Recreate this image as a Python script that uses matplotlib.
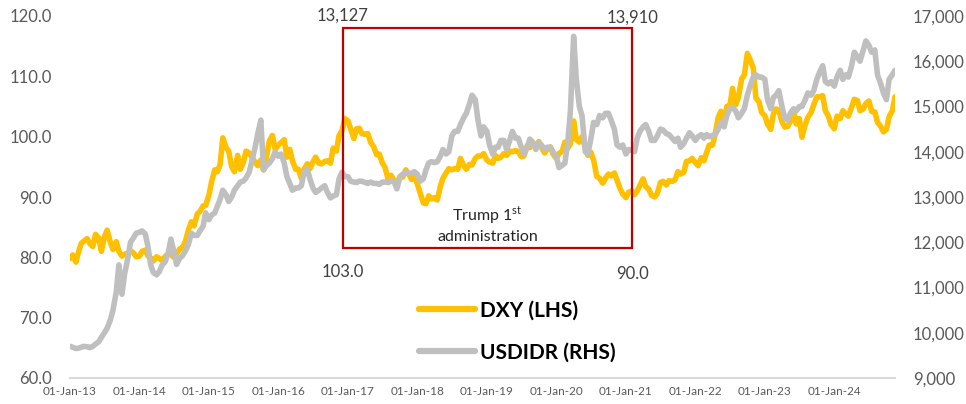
import numpy as np
import pandas as pd
import matplotlib
matplotlib.use("Agg")
import matplotlib.pyplot as plt
import matplotlib.dates as mdates
from matplotlib.patches import Rectangle
from matplotlib.lines import Line2D
from matplotlib.ticker import FuncFormatter

plt.rcParams['font.family'] = ['Lato', 'DejaVu Sans']
plt.rcParams['mathtext.fontset'] = 'custom'
plt.rcParams['mathtext.rm'] = 'Lato'

# DXY, semi-monthly (1st and 15th), one row per year
dxy = [
    79.8, 80.4, 79.2, 80.9, 82.3, 82.7, 83.1, 82.3, 81.8, 83.8, 83.2, 81.0, 83.4, 84.5, 82.5, 81.3, 82.6, 81.0, 80.2, 80.5, 80.7, 81.1, 80.7, 80.1,
    80.2, 81.0, 81.2, 80.2, 79.9, 79.4, 80.1, 79.8, 79.5, 80.1, 80.6, 80.5, 80.0, 80.6, 81.4, 81.6, 82.8, 84.5, 85.9, 85.2, 87.2, 87.6, 88.5, 88.6,
    90.3, 92.5, 94.5, 94.2, 95.4, 99.8, 98.2, 97.6, 95.0, 94.2, 96.9, 94.6, 95.7, 97.6, 97.3, 96.6, 95.8, 95.2, 96.1, 94.5, 96.9, 99.3, 100.2, 97.9,
    98.6, 99.0, 99.5, 96.6, 97.9, 96.0, 94.6, 94.6, 93.1, 94.6, 95.5, 94.7, 95.8, 96.6, 95.6, 95.5, 95.9, 96.0, 95.6, 98.1, 97.6, 100.2, 101.0, 103.0,
    102.6, 101.3, 99.7, 101.3, 101.4, 100.5, 100.4, 100.5, 99.0, 98.4, 97.0, 97.1, 95.6, 94.9, 92.8, 93.6, 92.7, 91.9, 93.4, 93.3, 94.5, 93.9, 92.9, 93.7,
    92.1, 90.7, 89.0, 88.9, 90.2, 89.7, 89.9, 89.5, 91.7, 93.1, 94.0, 94.7, 94.5, 94.7, 94.6, 96.4, 95.2, 94.6, 95.4, 95.3, 96.4, 96.8, 96.8, 97.2,
    96.1, 95.8, 95.6, 96.9, 96.4, 96.6, 97.2, 96.9, 97.6, 97.5, 97.7, 97.5, 96.7, 96.8, 98.5, 98.2, 98.9, 98.3, 99.2, 98.2, 97.3, 98.0, 98.3, 97.1,
    96.4, 97.2, 97.6, 99.1, 98.1, 98.8, 102.6, 99.5, 99.1, 100.0, 98.3, 96.9, 97.4, 96.1, 93.4, 93.1, 92.3, 93.1, 93.8, 93.5, 94.0, 92.8, 91.4, 90.5,
    89.9, 90.8, 91.0, 90.4, 91.0, 91.9, 93.0, 91.7, 91.3, 90.3, 90.0, 90.6, 92.4, 92.6, 92.0, 92.7, 92.6, 92.8, 94.2, 93.8, 94.1, 95.9, 96.0, 96.4,
    95.7, 95.2, 96.5, 96.0, 97.4, 98.6, 98.6, 100.5, 103.2, 104.2, 102.5, 105.0, 105.1, 108.0, 105.3, 106.5, 109.6, 110.2, 113.8, 112.8, 111.4, 106.4, 105.8, 104.0,
    103.5, 102.1, 101.2, 103.8, 104.6, 104.4, 102.5, 101.6, 101.7, 102.5, 104.2, 102.1, 103.0, 99.9, 102.0, 103.2, 104.0, 105.3, 106.6, 106.6, 106.8, 104.3, 103.4, 102.0,
    101.3, 103.4, 103.0, 104.3, 103.8, 103.4, 104.9, 106.2, 106.0, 104.3, 104.6, 105.5, 105.9, 104.2, 104.1, 102.4, 101.7, 100.8, 101.2, 103.3, 104.3, 106.6,
]

# USDIDR, same dates
usdidr = [
    9700, 9680, 9650, 9660, 9680, 9700, 9690, 9670, 9700, 9750, 9800, 9900, 10000, 10100, 10280, 10500, 10900, 11500, 10850, 11300, 11650, 12000, 12100, 12200,
    12220, 12250, 12180, 11900, 11500, 11330, 11280, 11350, 11500, 11560, 11750, 12070, 11800, 11510, 11650, 11700, 11820, 11950, 12200, 12150, 12150, 12250, 12350, 12650,
    12500, 12600, 12650, 12800, 12950, 13150, 13050, 12900, 13000, 13150, 13250, 13330, 13350, 13420, 13550, 13800, 14100, 14400, 14700, 13600, 13700, 13750, 13850, 14000,
    13900, 13950, 13750, 13450, 13300, 13150, 13200, 13200, 13250, 13550, 13620, 13400, 13200, 13100, 13150, 13200, 13250, 13100, 12980, 13020, 13050, 13400, 13550, 13450,
    13450, 13350, 13330, 13320, 13350, 13350, 13320, 13300, 13330, 13300, 13300, 13280, 13330, 13330, 13320, 13360, 13330, 13180, 13450, 13500, 13550, 13520, 13520, 13560,
    13500, 13350, 13400, 13600, 13750, 13780, 13760, 13780, 13900, 14050, 13950, 14000, 14350, 14450, 14450, 14600, 14750, 14850, 15050, 15250, 15150, 14700, 14350, 14550,
    14450, 14150, 13950, 14100, 14100, 14250, 14250, 14050, 14250, 14450, 14300, 14300, 14100, 13950, 14100, 14280, 14200, 14050, 14200, 14150, 14050, 14100, 14100, 14000,
    13900, 13650, 13700, 13750, 14200, 14900, 16550, 15600, 15000, 14800, 14000, 13950, 14300, 14650, 14600, 14800, 14750, 14850, 14850, 14700, 14500, 14150, 14100, 14150,
    13950, 14050, 14030, 14000, 14300, 14450, 14550, 14600, 14450, 14250, 14250, 14350, 14500, 14480, 14400, 14380, 14300, 14230, 14300, 14100, 14180, 14300, 14420, 14350,
    14250, 14330, 14380, 14300, 14380, 14330, 14360, 14380, 14500, 14650, 14550, 14800, 14950, 14980, 14900, 14750, 14850, 14950, 15250, 15450, 15650, 15700, 15650, 15650,
    15600, 15150, 14950, 15200, 15250, 15350, 15000, 14750, 14700, 14850, 14950, 14900, 15000, 15000, 15150, 15300, 15250, 15350, 15600, 15750, 15900, 15550, 15500, 15550,
    15450, 15650, 15800, 15600, 15700, 15650, 15900, 16200, 16100, 16000, 16250, 16450, 16350, 16200, 16250, 15700, 15500, 15300, 15150, 15600, 15700, 15800,
]

dates = pd.date_range("2013-01-01", periods=len(dxy), freq="SMS")

# Trump 1st administration box and its labels
box_start = pd.Timestamp("2016-12-05")
box_end = pd.Timestamp("2021-02-03")
box_low, box_high = 81.5, 118.0
idr_start_label, idr_end_label = "13,127", "13,910"
dxy_start_label, dxy_end_label = "103.0", "90.0"

gold = "#FFC000"
grey = "#BFBFBF"
txt = "#595959"

fig = plt.figure(figsize=(9.66, 4.04), dpi=100)
ax = fig.add_axes([70/966, 1-378/404, (895-70)/966, (378-16)/404])
ax2 = ax.twinx()

ax.plot(dates, dxy, color=gold, lw=4, solid_capstyle="round", solid_joinstyle="round")
ax2.plot(dates, usdidr, color=grey, lw=4, solid_capstyle="round", solid_joinstyle="round")

ax.set_xlim(dates[0], dates[-1])
ax.set_ylim(60, 120)
ax2.set_ylim(9000, 17000)
ax.set_yticks(np.arange(60, 121, 10))
ax2.set_yticks(np.arange(9000, 17001, 1000))
ax.yaxis.set_major_formatter(FuncFormatter(lambda v, p: f"{v:.1f}"))
ax2.yaxis.set_major_formatter(FuncFormatter(lambda v, p: f"{v:,.0f}"))

ax.xaxis.set_major_locator(mdates.YearLocator())
ax.xaxis.set_major_formatter(mdates.DateFormatter("%d-%b-%y"))

for a in (ax, ax2):
    for s in ("top", "left", "right"):
        a.spines[s].set_visible(False)
    a.spines["bottom"].set_color("#D9D9D9")
    a.spines["bottom"].set_linewidth(1.5)
ax2.spines["bottom"].set_visible(False)

ax.tick_params(axis="y", length=0, pad=13, labelsize=12, labelcolor=txt)
ax2.tick_params(axis="y", length=0, pad=13, labelsize=12, labelcolor=txt)
ax.tick_params(axis="x", length=0, pad=6, labelsize=8.5, labelcolor=txt)

# red box
x0 = mdates.date2num(box_start)
x1 = mdates.date2num(box_end)
rect = Rectangle((x0, box_low), x1 - x0, box_high - box_low, transform=ax.transData,
                 fill=False, edgecolor="#C00000", lw=1.6, clip_on=False, zorder=5)
ax2.add_patch(rect)

ax2.text(box_start, 17005, idr_start_label, ha="center", va="center", fontsize=12,
         color="#404040", clip_on=False)
ax2.text(box_end, 16960, idr_end_label, ha="center", va="center", fontsize=12,
         color="#404040", clip_on=False)
ax.text(box_start, 77.6, dxy_start_label, ha="center", va="center", fontsize=12, color="#404040")
ax.text(box_end, 77.3, dxy_end_label, ha="center", va="center", fontsize=12, color="#404040")
mid = box_start + (box_end - box_start) / 2
ax.text(mid, 87.0, r"Trump 1$^{\mathrm{st}}$", ha="center", va="center", fontsize=11.5, color="#262626")
ax.text(mid, 83.4, "administration", ha="center", va="center", fontsize=11.5, color="#262626")

handles = [Line2D([], [], color=gold, lw=4.5, solid_capstyle="round"),
           Line2D([], [], color=grey, lw=4.5, solid_capstyle="round")]
fig.legend(handles, ["DXY (LHS)", "USDIDR (RHS)"], loc="center left",
           bbox_to_anchor=(409/966, 1-331.5/404), frameon=False, borderpad=0,
           handlelength=2.65, handletextpad=0.25, labelspacing=1.05,
           prop={"weight": "bold", "size": 15})

fig.savefig("out.png", dpi=100)
